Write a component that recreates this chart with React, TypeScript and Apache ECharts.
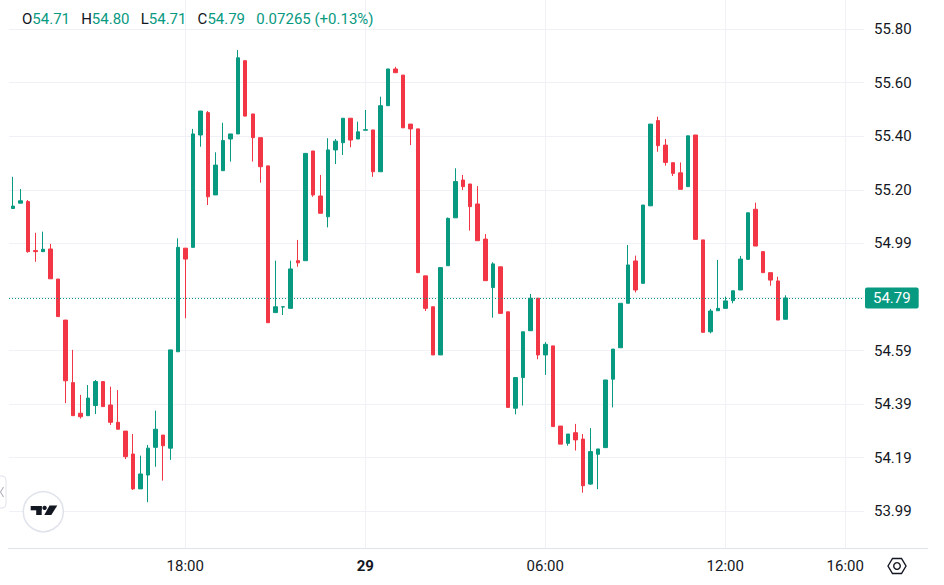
import React, { useEffect, useRef } from "react";
import * as echarts from "echarts";

// ---- data (15-minute candles, 28th 12:15 -> 29th 14:00) ----
const opens = [
  55.126, 55.146, 55.152, 54.968, 54.964, 54.974, 54.861, 54.707, 54.472, 54.357,
  54.348, 54.386, 54.476, 54.388, 54.323, 54.29, 54.204, 54.073, 54.125, 54.229,
  54.275, 54.226, 54.588, 54.977, 54.98, 55.402, 55.486, 55.177, 55.268, 55.387,
  55.406, 55.681, 55.481, 55.392, 55.286, 54.735, 54.756, 54.751, 54.93, 54.93,
  55.342, 55.173, 55.095, 55.346, 55.373, 55.465, 55.387, 55.42, 55.421, 55.264,
  55.512, 55.65, 55.627, 55.443, 55.425, 54.873, 54.757, 54.576, 54.911, 55.091,
  55.233, 55.218, 55.143, 55.011, 54.829, 54.907, 54.738, 54.376, 54.491, 54.667,
  54.789, 54.576, 54.61, 54.309, 54.244, 54.284, 54.26, 54.091, 54.203, 54.228,
  54.485, 54.603, 54.77, 54.929, 54.845, 55.136, 55.456, 55.364, 55.298, 55.26,
  55.208, 55.402, 55.008, 54.663, 54.742, 54.751, 54.78, 54.82, 54.935, 55.123,
  54.964, 54.885, 54.854, 54.71,
];
const highs = [
  55.245, 55.199, 55.158, 55.035, 55.039, 54.993, 54.861, 54.707, 54.595, 54.426,
  54.463, 54.482, 54.476, 54.457, 54.444, 54.29, 54.279, 54.198, 54.238, 54.367,
  54.275, 54.595, 55.014, 54.977, 55.425, 55.492, 55.492, 55.337, 55.448, 55.406,
  55.721, 55.681, 55.481, 55.392, 55.286, 54.93, 54.757, 54.93, 55.008, 55.333,
  55.342, 55.252, 55.39, 55.387, 55.465, 55.465, 55.452, 55.496, 55.421, 55.546,
  55.65, 55.658, 55.627, 55.443, 55.425, 54.873, 54.757, 54.904, 55.092, 55.277,
  55.252, 55.218, 55.21, 55.03, 54.924, 54.907, 54.738, 54.491, 54.663, 54.805,
  54.789, 54.624, 54.61, 54.309, 54.279, 54.317, 54.279, 54.301, 54.223, 54.482,
  54.598, 54.77, 54.989, 54.949, 55.139, 55.443, 55.471, 55.387, 55.298, 55.299,
  55.399, 55.402, 55.008, 54.749, 54.933, 54.795, 54.817, 54.948, 55.11, 55.148,
  54.964, 54.885, 54.87, 54.8,
];
const lows = [
  55.125, 55.146, 54.96, 54.926, 54.963, 54.862, 54.72, 54.395, 54.348, 54.337,
  54.348, 54.354, 54.382, 54.313, 54.297, 54.185, 54.069, 54.073, 54.023, 54.156,
  54.104, 54.182, 54.588, 54.714, 54.98, 55.358, 55.139, 55.177, 55.268, 55.302,
  55.406, 55.473, 55.302, 55.223, 54.697, 54.735, 54.726, 54.751, 54.907, 54.93,
  55.17, 55.108, 55.055, 55.293, 55.327, 55.356, 55.387, 55.42, 55.245, 55.264,
  55.512, 55.636, 55.429, 55.364, 54.885, 54.741, 54.576, 54.576, 54.911, 55.091,
  55.195, 55.043, 55.005, 54.855, 54.716, 54.732, 54.379, 54.353, 54.386, 54.667,
  54.56, 54.501, 54.307, 54.241, 54.235, 54.217, 54.059, 54.088, 54.072, 54.228,
  54.379, 54.603, 54.77, 54.811, 54.845, 55.136, 55.339, 55.287, 55.248, 55.198,
  55.208, 55.01, 54.661, 54.657, 54.742, 54.751, 54.77, 54.82, 54.935, 54.985,
  54.885, 54.836, 54.707, 54.71,
];
const closes = [
  55.135, 55.155, 54.964, 54.964, 54.973, 54.862, 54.72, 54.479, 54.348, 54.344,
  54.414, 54.476, 54.382, 54.323, 54.297, 54.194, 54.073, 54.129, 54.226, 54.297,
  54.235, 54.595, 54.98, 54.936, 55.406, 55.492, 55.17, 55.289, 55.381, 55.406,
  55.692, 55.473, 55.392, 55.283, 54.697, 54.757, 54.757, 54.899, 54.922, 55.333,
  55.177, 55.108, 55.346, 55.379, 55.465, 55.383, 55.414, 55.422, 55.264, 55.512,
  55.65, 55.636, 55.429, 55.425, 54.885, 54.751, 54.576, 54.904, 55.089, 55.227,
  55.208, 55.133, 55.005, 54.855, 54.918, 54.732, 54.379, 54.491, 54.663, 54.789,
  54.576, 54.616, 54.307, 54.241, 54.279, 54.257, 54.085, 54.213, 54.223, 54.482,
  54.598, 54.77, 54.914, 54.82, 55.139, 55.443, 55.362, 55.299, 55.258, 55.198,
  55.399, 55.01, 54.661, 54.741, 54.751, 54.779, 54.817, 54.936, 55.11, 54.985,
  54.885, 54.857, 54.707, 54.79,
];

// legend change text
const changeText = "0.07265 (+0.13%)";

// x categories: 15-minute slots from 28th 12:15, with room to 16:30 on the 29th
const SLOT_COUNT = 114;
const START_MIN = 12 * 60 + 15;
const START_DAY = 28;
const categories: string[] = [];
for (let i = 0; i < SLOT_COUNT; i++) {
  const m = START_MIN + 15 * i;
  const day = START_DAY + Math.floor(m / 1440);
  const hh = Math.floor((m % 1440) / 60);
  const mm = m % 60;
  categories.push(`${day} ${String(hh).padStart(2, "0")}:${String(mm).padStart(2, "0")}`);
}
const xShownTicks = ["28 18:00", "29 00:00", "29 06:00", "29 12:00", "29 16:00"];

// y ticks
const yTickLabels = ["55.80", "55.60", "55.40", "55.20", "54.99", "54.79", "54.59", "54.39", "54.19", "53.99"];
const yTickValues = [55.8, 55.599, 55.397, 55.196, 54.995, 54.794, 54.592, 54.391, 54.19, 53.989];
const Y_MIN = 53.851;
const Y_MAX = 55.909;

const UP = "#089981";
const DOWN = "#f23645";
const TEXT = "#131722";
const GRID = "#eff1f6";
const FONT = "Roboto, 'Noto Sans', sans-serif";

export default function App() {
  const ref = useRef<HTMLDivElement | null>(null);

  useEffect(() => {
    if (!ref.current) return;
    const chart = echarts.init(ref.current, null, { renderer: "svg" });
    const n = opens.length;
    const last = n - 1;
    const candleData = opens.map((o, i) => [o, closes[i], lows[i], highs[i]]);
    const lastUp = closes[last] >= opens[last];
    const lastColor = lastUp ? UP : DOWN;
    const f2 = (v: number) => v.toFixed(2);

    const legendText =
      `{l|O}{v|${f2(opens[last])}}   {l|H}{v|${f2(highs[last])}}   {l|L}{v|${f2(lows[last])}}   {l|C}{v|${f2(closes[last])}}   {v|${changeText}}`;

    const labelFor = (v: number) => {
      let best = 0;
      for (let i = 1; i < yTickValues.length; i++) {
        if (Math.abs(yTickValues[i] - v) < Math.abs(yTickValues[best] - v)) best = i;
      }
      return yTickLabels[best];
    };

    const xLabel = (v: string) => {
      const [day, time] = v.split(" ");
      return time === "00:00" ? `{b|${day}}` : time;
    };

    const hex = (cx: number, cy: number, w: number, h: number) => [
      [cx - w / 2, cy],
      [cx - w / 4, cy - h / 2],
      [cx + w / 4, cy - h / 2],
      [cx + w / 2, cy],
      [cx + w / 4, cy + h / 2],
      [cx - w / 4, cy + h / 2],
    ];

    chart.setOption({
      animation: false,
      backgroundColor: "#ffffff",
      textStyle: { fontFamily: FONT },
      title: {
        text: legendText,
        left: 17,
        top: 6,
        textStyle: {
          fontFamily: FONT,
          fontSize: 15,
          fontWeight: "normal",
          rich: {
            l: { color: TEXT, fontSize: 15, fontFamily: FONT },
            v: { color: lastColor, fontSize: 15, fontFamily: FONT },
          },
        },
      },
      grid: { left: 9, right: 80, top: 0, bottom: 37, containLabel: false },
      xAxis: {
        type: "category",
        data: categories,
        boundaryGap: true,
        axisLine: { show: false },
        axisTick: { show: false },
        axisLabel: {
          interval: (_i: number, v: string) => xShownTicks.includes(v),
          color: TEXT,
          fontSize: 15,
          fontFamily: FONT,
          margin: 10,
          formatter: xLabel,
          rich: { b: { fontWeight: "bold", color: TEXT, fontSize: 15, fontFamily: FONT } },
        },
        splitLine: { show: false },
      },
      yAxis: {
        type: "value",
        position: "right",
        min: Y_MIN,
        max: Y_MAX,
        scale: true,
        axisLine: { show: false },
        axisTick: { show: false, customValues: yTickValues },
        axisLabel: {
          customValues: yTickValues,
          color: TEXT,
          fontSize: 15,
          fontFamily: FONT,
          margin: 10,
          formatter: (v: number) => labelFor(v),
        },
        splitLine: { show: true, lineStyle: { color: GRID, width: 1 } },
      },
      series: [
        {
          type: "line",
          data: [],
          silent: true,
          showSymbol: false,
          markLine: {
            silent: true,
            symbol: "none",
            animation: false,
            z: 1,
            data: xShownTicks.map((t) => ({ xAxis: t })),
            lineStyle: { color: GRID, type: "solid", width: 1 },
            label: { show: false },
            emphasis: { disabled: true },
          },
        },
        {
          type: "candlestick",
          data: candleData,
          barWidth: 4,
          z: 3,
          itemStyle: {
            color: UP,
            color0: DOWN,
            borderColor: UP,
            borderColor0: DOWN,
            borderWidth: 1,
          },
          markLine: {
            silent: true,
            symbol: "none",
            animation: false,
            data: [{ yAxis: closes[last] }],
            lineStyle: { color: lastColor, type: [1, 2], width: 1 },
            label: {
              show: true,
              position: "end",
              distance: 1,
              formatter: () => f2(closes[last]),
              color: "#ffffff",
              backgroundColor: lastColor,
              fontSize: 15,
              fontFamily: FONT,
              lineHeight: 15,
              padding: [3, 8, 3, 8],
              borderRadius: 2,
            },
          },
        },
      ],
      graphic: [
        { type: "line", silent: true, z: 10, shape: { x1: 8, y1: 548.5, x2: 928, y2: 548.5 }, style: { stroke: "#e0e3eb", lineWidth: 1 } },
        // left collapse button
        { type: "rect", silent: true, z: 10, shape: { x: -10, y: 476, width: 16, height: 32, r: 4 }, style: { fill: "#ffffff", stroke: "#e0e3eb", lineWidth: 1 } },
        { type: "polyline", silent: true, z: 11, shape: { points: [[3.5, 487], [0.5, 492], [3.5, 497]] }, style: { stroke: "#b2b5be", lineWidth: 1.2, fill: null } },
        // TradingView logo
        { type: "circle", silent: true, z: 10, shape: { cx: 43.3, cy: 511.7, r: 20 }, style: { fill: "#ffffff", stroke: "#e0e3eb", lineWidth: 1.5 } },
        { type: "rect", silent: true, z: 11, shape: { x: 30.7, y: 506, width: 11, height: 4.3 }, style: { fill: TEXT } },
        { type: "rect", silent: true, z: 11, shape: { x: 36.2, y: 506, width: 5.5, height: 9 }, style: { fill: TEXT } },
        { type: "circle", silent: true, z: 11, shape: { cx: 44.6, cy: 507.9, r: 2.2 }, style: { fill: TEXT } },
        { type: "polygon", silent: true, z: 11, shape: { points: [[49.5, 505.5], [57.3, 505.5], [51.3, 515], [44.3, 515]] }, style: { fill: TEXT } },
        // settings hexagon
        { type: "polygon", silent: true, z: 10, shape: { points: hex(897, 566, 18, 15) }, style: { fill: "#ffffff", stroke: TEXT, lineWidth: 1.4 } },
        { type: "circle", silent: true, z: 11, shape: { cx: 897, cy: 566, r: 3.3 }, style: { fill: "none", stroke: TEXT, lineWidth: 1.4 } },
      ],
    });

    return () => chart.dispose();
  }, []);

  return (
    <div
      ref={ref}
      style={{ position: "fixed", left: 0, top: 0, width: 944, height: 585, background: "#fff" }}
    />
  );
}
